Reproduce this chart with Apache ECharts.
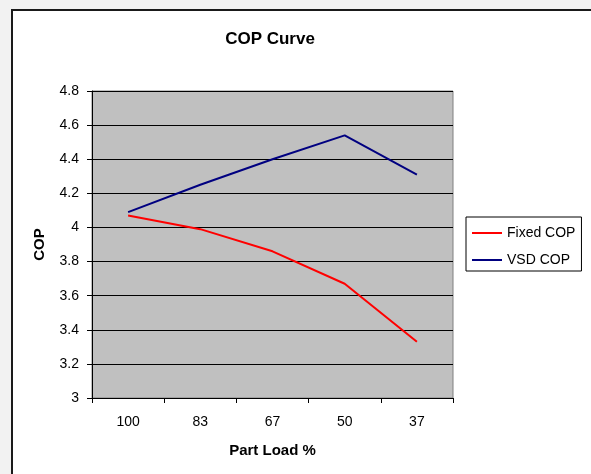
<!DOCTYPE html>
<html>
<head>
<meta charset="utf-8">
<script src="https://cdn.jsdelivr.net/npm/echarts@6/dist/echarts.min.js"></script>
<style>
html,body{margin:0;padding:0;background:#f2f2f2;width:591px;height:474px;overflow:hidden;}
#frame{position:absolute;left:11px;top:9px;width:600px;height:500px;border-left:2px solid #1a1a1a;border-top:2px solid #1a1a1a;background:#fff;}
#chart{position:absolute;left:0;top:0;width:591px;height:474px;}
</style>
</head>
<body>
<div id="frame"></div>
<div id="chart"></div>
<script>
var categories = ['100', '83', '67', '50', '37'];
var fixedCOP = [4.07, 3.99, 3.86, 3.67, 3.33];
var vsdCOP = [4.09, 4.25, 4.40, 4.54, 4.31];
var titleText = 'COP Curve';
var xName = 'Part Load %';
var yName = 'COP';

var font = '"Liberation Sans", Arial, sans-serif';
var chart = echarts.init(document.getElementById('chart'), null, {renderer: 'canvas'});
chart.setOption({
  animation: false,
  backgroundColor: 'transparent',
  textStyle: {fontFamily: font},
  title: {
    text: titleText,
    left: 270,
    top: 31,
    padding: 0,
    textAlign: 'center',
    textStyle: {fontFamily: font, fontSize: 17, fontWeight: 'bold', color: '#000'}
  },
  legend: {
    orient: 'vertical',
    left: 466,
    top: 217,
    padding: [9, 6, 4, 6],
    itemGap: 13,
    itemWidth: 30,
    itemHeight: 2,
    itemTextGap: 4,
    icon: 'rect',
    borderColor: '#000',
    borderWidth: 1,
    backgroundColor: '#fff',
    textStyle: {fontFamily: font, fontSize: 14, color: '#000', lineHeight: 14},
    data: ['Fixed COP', 'VSD COP']
  },
  grid: {left: 92, right: 138, top: 91, bottom: 76, show: true, backgroundColor: '#c0c0c0', borderColor: '#808080', borderWidth: 1, containLabel: false},
  xAxis: {
    type: 'category',
    data: categories,
    boundaryGap: true,
    name: xName,
    nameLocation: 'middle',
    nameGap: 45,
    nameTextStyle: {fontFamily: font, fontSize: 15, fontWeight: 'bold', color: '#000'},
    axisLine: {lineStyle: {color: '#000', width: 1}},
    axisTick: {show: true, length: 5, inside: false, lineStyle: {color: '#000'}},
    axisLabel: {margin: 17, fontFamily: font, fontSize: 14, color: '#000'},
    splitLine: {show: false}
  },
  yAxis: {
    type: 'value',
    min: 3,
    max: 4.8,
    interval: 0.2,
    name: yName,
    nameLocation: 'middle',
    nameRotate: 90,
    nameGap: 45,
    nameTextStyle: {fontFamily: font, fontSize: 15, fontWeight: 'bold', color: '#000'},
    axisLine: {show: true, lineStyle: {color: '#000', width: 1}},
    axisTick: {show: true, length: 5, lineStyle: {color: '#000'}},
    axisLabel: {margin: 13, fontFamily: font, fontSize: 14, color: '#000'},
    splitLine: {show: true, lineStyle: {color: '#000', width: 1}}
  },
  series: [
    {name: 'Fixed COP', type: 'line', data: fixedCOP, symbol: 'none', lineStyle: {color: '#ff0000', width: 2}, itemStyle: {color: '#ff0000'}},
    {name: 'VSD COP', type: 'line', data: vsdCOP, symbol: 'none', lineStyle: {color: '#000080', width: 2}, itemStyle: {color: '#000080'}}
  ]
});
</script>
</body>
</html>
